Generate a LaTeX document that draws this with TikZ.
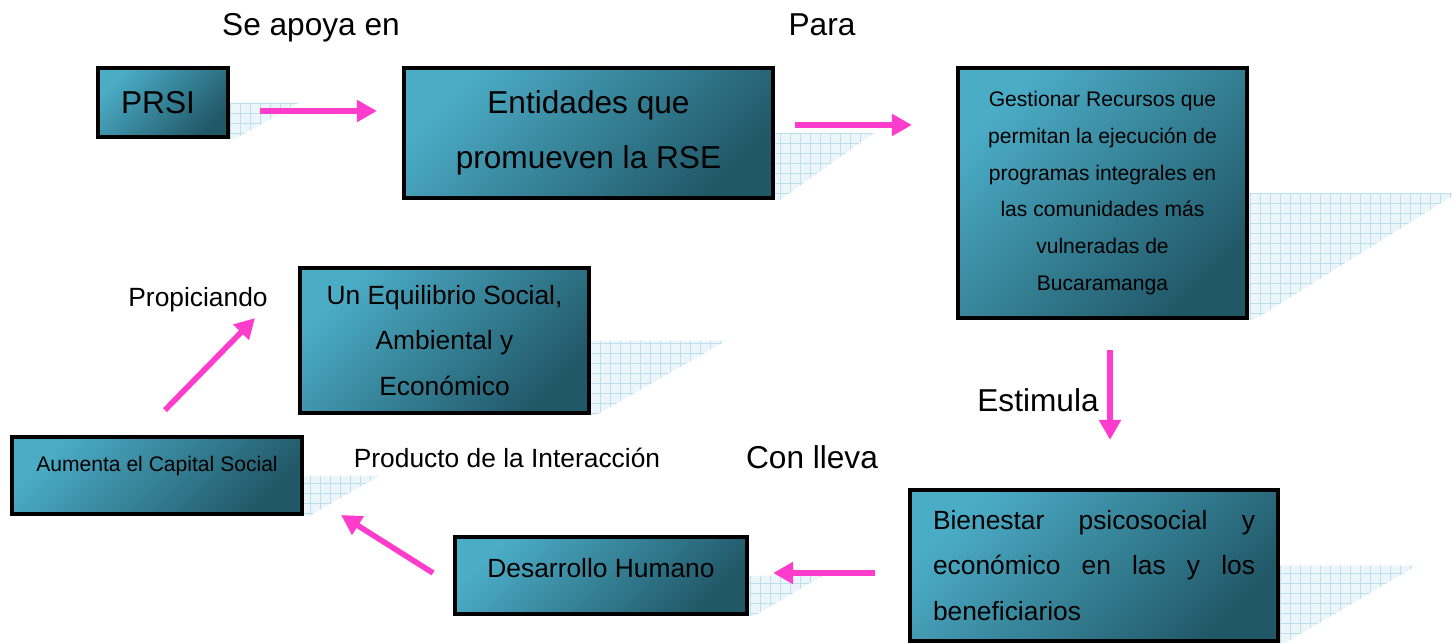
\documentclass[tikz,border=0pt]{standalone}
\usepackage{fontspec}
\setmainfont{Liberation Sans}
\usetikzlibrary{arrows.meta, calc, positioning}
\pgfdeclarelayer{fondo}
\pgfsetlayers{fondo,main}
\definecolor{tealclaro}{RGB}{75,172,198}
\definecolor{tealoscuro}{RGB}{33,88,104}
\definecolor{rosa}{RGB}{255,60,204}
\definecolor{rejilla}{RGB}{190,224,235}
\definecolor{sombrafondo}{RGB}{236,246,250}

\tikzset{
  caja/.style={draw=black, line width=2.2pt, top color=tealclaro, bottom color=tealoscuro,
    shading angle=45, inner sep=0pt, align=center},
  flecha/.style={->, draw=rosa, line width=3.2pt},
  etiqueta/.style={anchor=base, font=\fontsize{18}{22}\selectfont},
  etiquetachica/.style={anchor=base, font=\fontsize{15}{18}\selectfont},
}

% sombra cuadriculada detras de cada caja
\newcommand{\sombra}[2]{%
  \begin{scope}
    \clip let \p1=(#1.south west), \p2=(#1.north east), \n1={(\y2-\y1)/2} in
      (\x1,\y1) -- ({\x2+3pt},\y1) -- ({\x2+3pt+#2*\n1},{\y1+\n1})
      -- ({\x1+#2*\n1},{\y1+\n1}) -- cycle;
    \fill[sombrafondo] (#1.south west) rectangle ([xshift=5cm]#1.north east);
    \draw[rejilla, line width=0.4pt, step=0.2] (#1.south west) grid ([xshift=5cm]#1.north east);
  \end{scope}}

\begin{document}
\begin{tikzpicture}[>={Triangle[length=0.4cm,width=0.42cm]}]
    \useasboundingbox (0,0) rectangle (29.04,12.86);

    % Cajas
    \node[caja, minimum width=2.6cm, minimum height=1.38cm, font=\fontsize{18}{22}\selectfont] (prsi) at (3.26,10.81) {PRSI\hspace{0.2cm}};
    \node[caja, minimum width=7.38cm, minimum height=2.6cm, font=\fontsize{18}{31}\selectfont] (entidades) at (11.77,10.2) {Entidades que\\promueven la RSE};
    \node[caja, minimum width=5.78cm, minimum height=5cm, font=\fontsize{12}{21}\selectfont] (gestionar) at (22.05,9.0)
        {Gestionar Recursos que\\permitan la ejecución de\\programas integrales en\\las comunidades más\\vulneradas de\\Bucaramanga};
    \node[caja, minimum width=7.36cm, minimum height=3.02cm, text width=6.44cm, align=justify,
        font=\fontsize{15}{26}\selectfont] (bienestar) at (21.88,1.55)
        {\hyphenpenalty=10000\relax Bienestar psicosocial y económico en las y los beneficiarios};
    \node[caja, minimum width=5.84cm, minimum height=1.54cm, text height=11pt, text depth=9.3pt,
        font=\fontsize{15}{18}\selectfont] (desarrollo) at (12.02,1.35) {Desarrollo Humano};
    \node[caja, minimum width=5.8cm, minimum height=1.54cm, text height=9pt, text depth=14.1pt,
        font=\fontsize{12}{14}\selectfont] (aumenta) at (3.14,3.35) {Aumenta el Capital Social};
    \node[caja, minimum width=5.78cm, minimum height=2.9cm, font=\fontsize{15}{26}\selectfont] (equilibrio) at (8.89,6.05)
        {Un Equilibrio Social,\\Ambiental y\\Económico};

    % Sombras
    \begin{pgfonlayer}{fondo}
        \sombra{prsi}{1.75}
        \sombra{entidades}{1.4}
        \sombra{gestionar}{1.6}
        \sombra{bienestar}{1.7}
        \sombra{desarrollo}{1.7}
        \sombra{aumenta}{1.75}
        \sombra{equilibrio}{1.75}
    \end{pgfonlayer}

    % Flechas
    \draw[flecha] ([shift={(0.6,-0.17)}]prsi.east) -- ++(2.34,0);
    \draw[flecha] ([shift={(0.4,0.16)}]entidades.east) -- ++(2.34,0);
    \draw[flecha] ([shift={(0.15,-0.6)}]gestionar.south) -- ++(0,-1.8);
    \draw[flecha] ([shift={(-0.66,-0.15)}]bienestar.west) -- ++(-2.04,0);
    \draw[flecha] ([shift={(-0.4,0.05)}]desarrollo.west) -- ++(-1.84,1.16);
    \draw[flecha] ([shift={(0.16,0.5)}]aumenta.north) -- ++(1.8,1.84);

    % Textos
    \node[etiqueta] (apoya) at (6.22,12.15) {Se apoya en};
    \node[etiqueta] (para) at (16.44,12.15) {Para};
    \node[etiqueta] (estimula) at (20.76,4.63) {Estimula};
    \node[etiqueta] (conlleva) at (16.24,3.49) {Con lleva};
    \node[etiquetachica] (propiciando) at (3.96,6.73) {Propiciando};
    \node[etiquetachica] (producto) at (10.14,3.51) {Producto de la Interacción};
\end{tikzpicture}
\end{document}
